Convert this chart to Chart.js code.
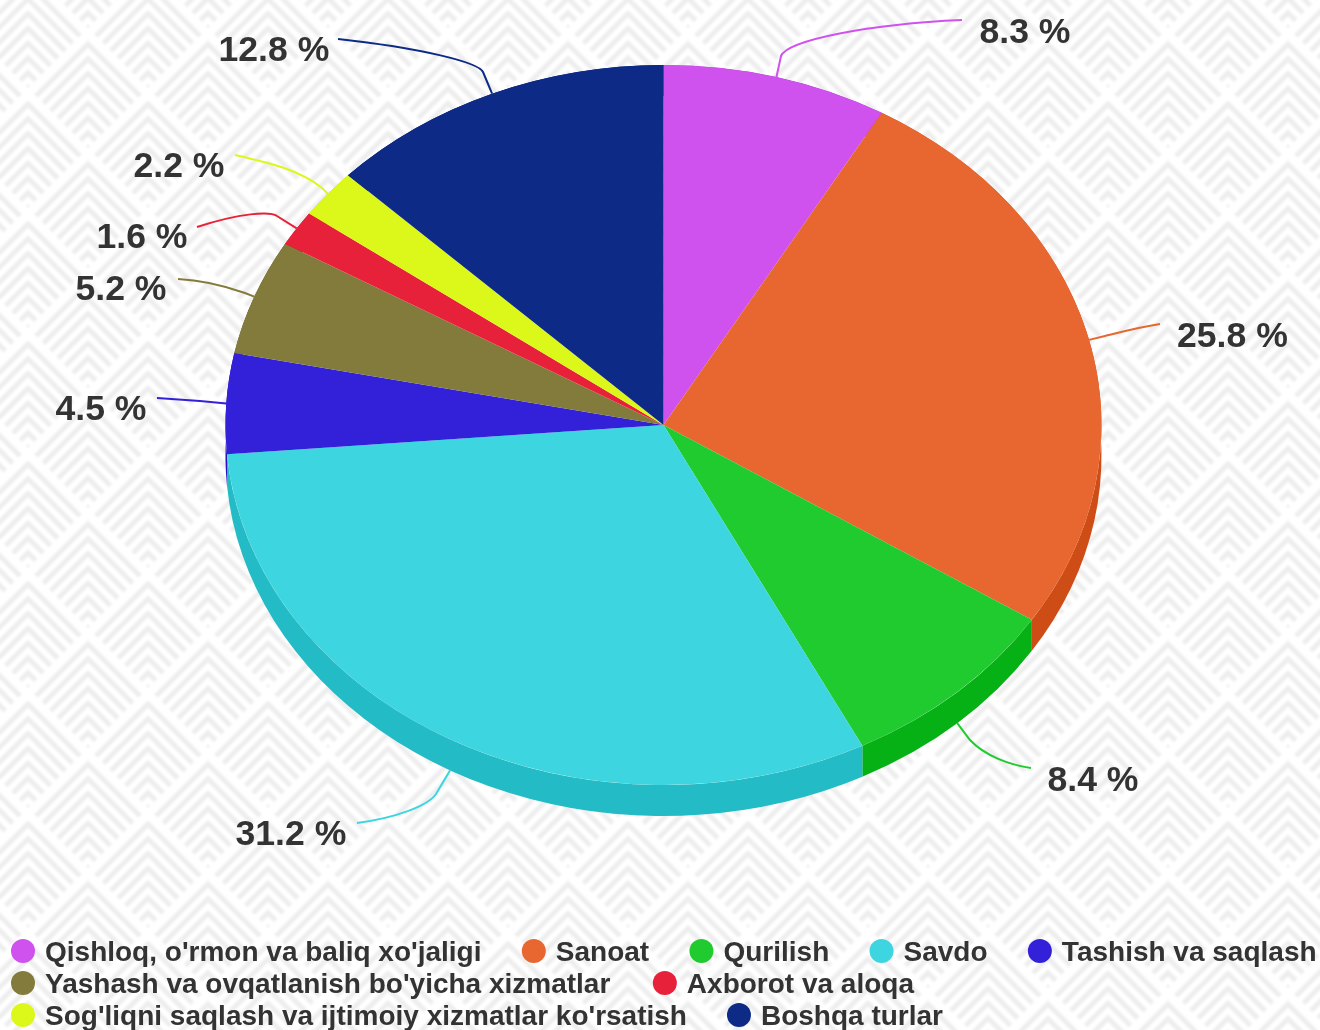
<!DOCTYPE html>
<html>
<head>
<meta charset="utf-8">
<script src="https://cdn.jsdelivr.net/npm/chart.js@4"></script>
<style>
html,body{margin:0;padding:0;width:1320px;height:1030px;overflow:hidden;background:#fff}
canvas{position:absolute;left:0;top:0}
</style>
</head>
<body>
<canvas id="c" width="1320" height="1030"></canvas>
<script>
const categories = ["Qishloq, o'rmon va baliq xo'jaligi","Sanoat","Qurilish","Savdo","Tashish va saqlash","Yashash va ovqatlanish bo'yicha xizmatlar","Axborot va aloqa","Sog'liqni saqlash va ijtimoiy xizmatlar ko'rsatish","Boshqa turlar"];
const shares = [8.3,25.8,8.4,31.2,4.5,5.2,1.6,2.2,12.8];
const colors = ["#CF52EE","#E86730","#20CB2F","#3DD5DF","#3321D9","#837B3B","#E8213A","#DCF81A","#0D2B86"];

// Layout of the drawing (not data)
const PIE = {cx:663.5, cy:425, rx:438, ry:360, depth:31};
const labelPlace = [[979.5,33],[1177,337],[1047.5,781],[235.5,835],[55.5,410],[75.5,290],[96.5,238],[133.5,167],[218.5,51]];
const leaderPaths = [
 [781,56, 788,40, 870,24, 962,20],
 [1105,336, 1125,331, 1140,327, 1160,324],
 [970,740, 985,756, 1010,765, 1031,768],
 [436,794, 428,806, 395,818, 357,823],
 [200,401, 185,400, 170,399, 157,398],
 [245,293, 225,286, 200,280, 178,279],
 [277,216, 270,211, 240,213, 197,227],
 [322,188, 300,170, 270,163, 235,155],
 [483,72, 478,62, 420,48, 338,39]
];
const legendGaps = [40.3,42.5,40];

// Background tile
(function(){
  let s = '<svg xmlns="http://www.w3.org/2000/svg" width="120" height="120"><defs><filter id="b" x="-10%" y="-10%" width="120%" height="120%"><feGaussianBlur stdDeviation="0.9"/></filter></defs><rect width="120" height="120" fill="#fff"/><g filter="url(#b)">';
  let id = 0, clips = '', body = '';
  for (const [bx,by] of [[88,32],[28,92]]) {
    for (let i=-1;i<=1;i++) for (let j=-2;j<=1;j++) {
      const px = bx+i*120, py = by+j*120, c = 'k'+(id++);
      clips += `<clipPath id="${c}"><polygon points="${px},${py+4} ${px+56},${py+60} ${px},${py+116} ${px-56},${py+60}"/></clipPath>`;
      let g = `<g clip-path="url(#${c})" fill="none" stroke="#eeeeee" stroke-width="5">`;
      for (let d=12; d<118; d+=14.8) g += `<polyline points="${px-70},${py+d+70} ${px},${py+d} ${px+70},${py+d+70}"/>`;
      body += g + '</g>';
    }
  }
  s = s.replace('</defs>', clips + '</defs>') + body + '</g></svg>';
  document.body.style.background = '#fff url("data:image/svg+xml,' + encodeURIComponent(s) + '") 0 0 repeat';
})();

function darker(hex){
  const n = parseInt(hex.slice(1),16);
  const f = v => Math.max(0,v-26).toString(16).padStart(2,'0');
  return '#'+f(n>>16&255)+f(n>>8&255)+f(n&255);
}

const ellipsePlugin = {
  id:'ellipse3d',
  beforeDatasetsDraw(chart){
    const ctx = chart.ctx, arcs = chart.getDatasetMeta(0).data;
    const c = arcs[0];
    ctx.save();
    ctx.translate(PIE.cx, PIE.cy);
    ctx.scale(PIE.rx/PIE.ry, 1);
    ctx.translate(-c.x, -c.y);
    // side wall of every slice
    arcs.forEach((a,i)=>{
      ctx.beginPath();
      ctx.arc(a.x,a.y,a.outerRadius,a.startAngle,a.endAngle);
      ctx.lineTo(a.x+a.outerRadius*Math.cos(a.endAngle), a.y+a.outerRadius*Math.sin(a.endAngle)+PIE.depth);
      ctx.arc(a.x,a.y+PIE.depth,a.outerRadius,a.endAngle,a.startAngle,true);
      ctx.closePath();
      ctx.fillStyle = darker(colors[i]);
      ctx.fill();
    });
  },
  afterDatasetsDraw(chart){
    chart.ctx.restore();
  },
  afterDraw(chart){
    const ctx = chart.ctx, arcs = chart.getDatasetMeta(0).data;
    // leader lines and value labels
    arcs.forEach((a,i)=>{
      const m = (a.startAngle+a.endAngle)/2, sn = Math.sin(m);
      const sx = PIE.cx+PIE.rx*Math.cos(m);
      const sy = PIE.cy+PIE.ry*sn+(sn>0?PIE.depth:0);
      const p = leaderPaths[i];
      ctx.beginPath();
      ctx.moveTo(sx,sy);
      ctx.lineTo(p[0],p[1]);
      ctx.bezierCurveTo(p[2],p[3],p[4],p[5],p[6],p[7]);
      ctx.strokeStyle = colors[i];
      ctx.lineWidth = 2;
      ctx.stroke();
      ctx.font = 'bold 35.6px "Liberation Sans", Arial, sans-serif';
      ctx.fillStyle = '#333333';
      ctx.textAlign = 'left';
      ctx.textBaseline = 'middle';
      ctx.fillText(shares[i].toFixed(1)+' %', labelPlace[i][0], labelPlace[i][1]);
    });
    // legend rows
    ctx.font = 'bold 28px "Liberation Sans", Arial, sans-serif';
    let x = 11, y = 951, row = 0;
    categories.forEach((name,i)=>{
      const w = ctx.measureText(name).width;
      if (x + 34 + w > 1320) { x = 11; y += 32; row++; }
      ctx.beginPath();
      ctx.arc(x+12,y,12,0,Math.PI*2);
      ctx.fillStyle = colors[i];
      ctx.fill();
      ctx.fillStyle = '#333333';
      ctx.textBaseline = 'middle';
      ctx.fillText(name,x+34,y+2);
      x += 34 + w + legendGaps[row];
    });
  }
};

new Chart(document.getElementById('c'),{
  type:'pie',
  data:{labels:categories,datasets:[{data:shares,backgroundColor:colors,borderWidth:0,radius:PIE.ry}]},
  options:{
    responsive:false,
    animation:false,
    events:[],
    layout:{padding:0},
    plugins:{legend:{display:false},tooltip:{enabled:false}}
  },
  plugins:[ellipsePlugin]
});
</script>
</body>
</html>
